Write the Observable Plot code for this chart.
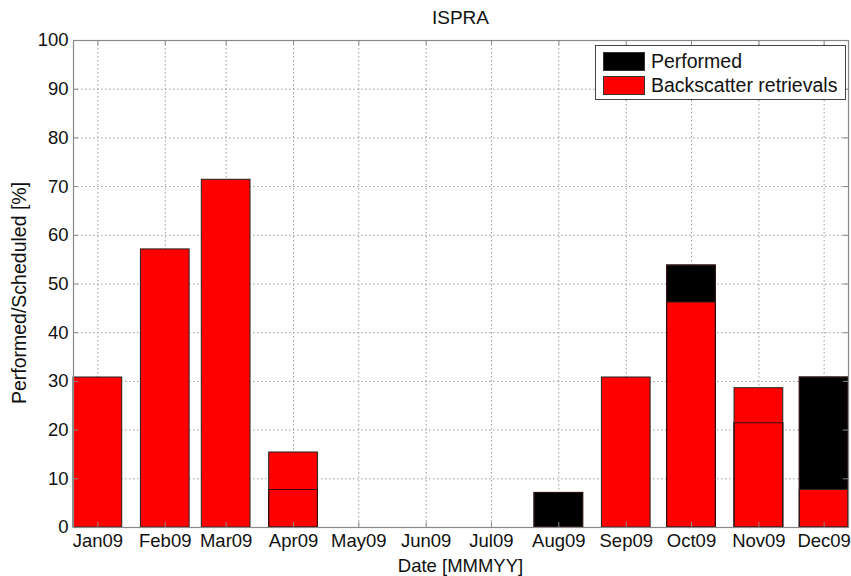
<!DOCTYPE html>
<html>
<head>
<meta charset="utf-8">
<script src="https://cdn.jsdelivr.net/npm/d3@7"></script>
<script src="https://cdn.jsdelivr.net/npm/@observablehq/plot@0.6"></script>
<style>
  body { margin: 0; background: #fff; }
  #wrap { position: relative; width: 851px; height: 576px; font-family: "Liberation Sans", Arial, sans-serif; color: #111; }
  .title { position: absolute; left: 73px; width: 775px; top: 7px; text-align: center; font-size: 19px; line-height: 22px; }
  .xlabel { position: absolute; left: 73px; width: 775px; top: 555px; text-align: center; font-size: 18.5px; line-height: 21px; }
  .ylabel { position: absolute; left: 19px; top: 293px; transform: translate(-50%, -50%) rotate(-90deg); white-space: nowrap; font-size: 19.5px; line-height: 22px; }
  .legend { position: absolute; left: 595px; top: 45px; width: 251px; height: 55px; border: 1px solid #444; background: #fff; box-sizing: border-box; }
  .legend .row { position: absolute; left: 7px; height: 19px; display: flex; align-items: center; font-size: 19.5px; }
  .legend .sw { width: 42px; height: 19px; margin-right: 6px; box-sizing: border-box; border: 1px solid #333; flex: none; }
</style>
</head>
<body>
<div id="wrap">
  <div class="title">ISPRA</div>
  <div class="xlabel">Date [MMMYY]</div>
  <div class="ylabel">Performed/Scheduled [%]</div>
</div>
<script>
// Monthly share of scheduled measurements, ISPRA station, 2009
const months = ["Jan09", "Feb09", "Mar09", "Apr09", "May09", "Jun09", "Jul09", "Aug09", "Sep09", "Oct09", "Nov09", "Dec09"];
const performed = [0, 0, 0, 7.7, 0, 0, 0, 7.1, 0, 53.8, 21.4, 30.8];
const backscatter = [30.8, 57.1, 71.4, 15.4, 0, 0, 0, 0, 30.8, 46.2, 28.6, 7.7];
const yTicks = [0, 10, 20, 30, 40, 50, 60, 70, 80, 90, 100];

const seriesNames = ["Performed", "Backscatter retrievals"];
const seriesColors = ["#000000", "#ff0000"];

const parseMonth = d3.utcParse("%b%y");
const dates = months.map(parseMonth);
const DAY = 864e5;
const halfBar = 11.2 * DAY; // bars are 0.8 of the shortest month gap

const rows = (vals) => vals
  .map((v, i) => ({date: dates[i], value: v}))
  .filter((d) => d.value > 0);
const perfRows = rows(performed);
const backRows = rows(backscatter);

const xDomain = [new Date(+dates[0] - halfBar), new Date(+dates[dates.length - 1] + halfBar)];
const x1 = (d) => new Date(+d.date - halfBar);
const x2 = (d) => new Date(+d.date + halfBar);
const tickLenX = 2.4 * DAY;
const tickLenY = 1.05;

const gridStyle = {stroke: "#9a9a9a", strokeOpacity: 1, strokeDasharray: "1.5,2.5", strokeWidth: 1};

const chart = Plot.plot({
  width: 851,
  height: 576,
  marginLeft: 73,
  marginRight: 3,
  marginTop: 40,
  marginBottom: 49,
  style: {fontFamily: "'Liberation Sans', Arial, sans-serif", fontSize: "18.5px", color: "#111", background: "transparent"},
  x: {type: "utc", domain: xDomain, label: null},
  y: {domain: [0, 100], label: null},
  marks: [
    Plot.gridY(yTicks, gridStyle),
    Plot.gridX(dates, gridStyle),
    Plot.rectY(perfRows, {x1, x2, y1: 0, y2: "value", fill: seriesColors[0], stroke: "#222", strokeWidth: 1}),
    Plot.rectY(backRows, {x1, x2, y1: 0, y2: "value", fill: seriesColors[1], stroke: "#222", strokeWidth: 1}),
    Plot.rectY(perfRows, {x1, x2, y1: 0, y2: "value", fill: "none", stroke: "#331010", strokeWidth: 1}),
    Plot.frame({stroke: "#888", strokeWidth: 1.2}),
    // inward tick marks on all four sides
    Plot.ruleX(dates, {x: (d) => d, y1: 0, y2: tickLenY, stroke: "#888"}),
    Plot.ruleX(dates, {x: (d) => d, y1: 100 - tickLenY, y2: 100, stroke: "#888"}),
    Plot.ruleY(yTicks, {y: (d) => d, x1: () => xDomain[0], x2: () => new Date(+xDomain[0] + tickLenX), stroke: "#888"}),
    Plot.ruleY(yTicks, {y: (d) => d, x1: () => new Date(+xDomain[1] - tickLenX), x2: () => xDomain[1], stroke: "#888"}),
    Plot.axisX(dates, {tickSize: 0, tickPadding: 6, tickFormat: d3.utcFormat("%b%y"), fontSize: 18.5, label: null}),
    Plot.axisY(yTicks, {tickSize: 0, tickPadding: 5, fontSize: 18.5, label: null})
  ]
});

const wrap = document.getElementById("wrap");
wrap.insertBefore(chart, wrap.firstChild);

const legend = document.createElement("div");
legend.className = "legend";
seriesNames.forEach((name, i) => {
  const row = document.createElement("div");
  row.className = "row";
  row.style.top = (i === 0 ? 6 : 30) + "px";
  const sw = document.createElement("span");
  sw.className = "sw";
  sw.style.background = seriesColors[i];
  row.appendChild(sw);
  row.appendChild(document.createTextNode(name));
  legend.appendChild(row);
});
wrap.appendChild(legend);
</script>
</body>
</html>
